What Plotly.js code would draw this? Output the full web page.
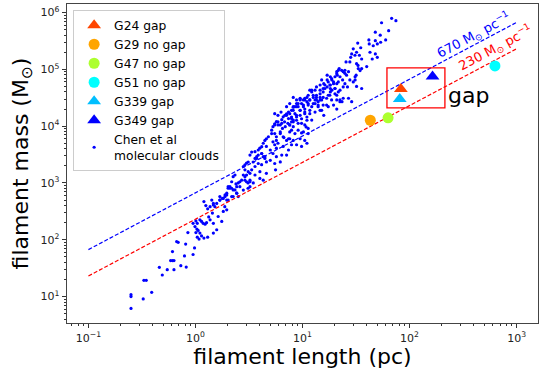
<!DOCTYPE html>
<html>
<head>
<meta charset="utf-8">
<script src="https://cdn.plot.ly/plotly-3.0.1.min.js"></script>
<style>
  html, body { margin: 0; padding: 0; background: #fff; }
  #chart { width: 546px; height: 369px; }
</style>
</head>
<body>
<div id="chart"></div>
<script>
// Chen et al. molecular clouds: filament length (pc) and mass (Msun)
const chenLength = [
  0.25,0.25,0.25,0.325,0.33,0.347,0.39,0.46,0.49,0.545,0.586,0.61,0.63,0.61,0.63,0.667,0.69,0.73,0.79,0.82,0.81,0.95,0.98,0.85,
  1.01,1.04,1.10,1.14,1.18,1.23,1.27,0.99,1.03,1.06,1.10,1.01,1.04,1.08,1.14,1.20,1.30,0.95,1.37,1.47,1.58,1.47,1.44,1.33,1.37,1.47,
  1.69,1.82,1.88,1.82,1.63,2.02,2.10,2.25,1.96,2.18,2.39,1.96,1.76,1.2,1.25,1.3,
  1.42,1.47,1.69,1.78,1.89,1.96,2.02,2.10,1.96,2.18,2.34,2.43,2.51,2.60,2.43,2.51,2.25,2.34,2.80,2.9,2.8,2.9,3.0,3.11,
  2.9,3.11,3.35,2.7,3.0,3.23,3.1,3.23,3.46,3.6,3.73,3.86,3.6,3.86,3.99,4.16,4.3,4.45,4.6,4.8,4.16,4.3,4.45,
  5.15,5.3,5.5,5.7,5.9,6.4,6.6,6.85,7.1,7.4,7.9,6.2,6.6,7.1,7.6,5.5,5.7,4.3,
  8.5,9.5,10.5,11,9.8,8.8,7.9,7.4,8.2,9.1,10.2,11.3,7.6,6.9,6.4,5.9,5.5,6.2,6.7,7.4,8.2,9.5,10.5,11.3,5.7,5.15,5.3,5.9,
  6.6,7.4,7.9,8.8,9.8,11,4.6,5.0,5.3,5.7,6.4,7.1,4.15,4.46,5.0,4.6,3.86,4.15,3.6,3.35,3.23,3.73,5.5,6.2,5.6,4.0,3.23,
  3.6,3.0,2.9,3.23,3.47,2.6,2.8,3.1,2.43,2.25,2.18,2.02,1.89,1.69,1.58,1.52,4.0,4.6,
  5.5,5.9,6.3,6.8,7.3,7.9,8.2,7.6,6.2,6.5,5.5,7.9,8.5,5.7,
  8.2,8.8,9.5,7.6,8.5,10.2,7.1,
  32.8,29.8,28.8,30.9,27.7,25.5,32,33.2,31,32,22,23.2,24,24.9,25.8,26.9,21.1,20.1,22.4,23.7,21.6,24.9,27.7,29.8,26.3,
  17,18.2,18.8,19.5,20.9,17.4,16.2,15.6,14.6,15.1,18.2,20.1,22.4,11.7,12.2,11.3,11,12.6,13.5,10.5,9.5,9.1,10.2,11.3,
  13.1,14.6,16.8,18.7,20.9,14,12.2,8.8,8.2,14.6,13.5,18.2,20.9,24,26.9,28.8,23.4,
  54.8,68,74.6,63.8,47.9,53.2,41.7,42,47.9,53.7,59.8,50,45.8,42.7,47.9,50,44.8,35,32,34,35.7,28.2,33,35.7,24.9,34.5,
  31.7,39.8,35.7,31,20.9,17,15.8,18.2,13.1,10.5,9.5,8.8,8.2,11.7,12.6,13.5,14.6,15.6,17.4,18.8,20.1,9.5,10.5,11.7,
  13.1,14,15.1,16.8,22.4,8.8,9.8,11,12.2,9.1,8.2,10.5,7.6,15.8,9.8,10.8,
  21.6,20.9,18.7,19.5,18,17,16.2,15.6,14.6,13.5,12.2,12.6,11.7,11,10.2,9.8,9.1,9.5,10.5,11.3,13.1,14,15.1,18,20.1,
  21.6,15.6,17.4,19.5,20.9,14.6,11.7,8.2,7.6,7.1,8.8,7.9,24,22.4
];
const chenMass = [
  6.2,10.8,10,9.1,19.3,19.3,11.9,32.7,24,29.8,43,43,43,62,29.8,93,90,35,52,33,84,55,72,134,
  215,195,224,210,195,188,200,171,154,146,131,134,111,103,117,107,111,195,224,195,150,131,295,252,383,437,
  500,535,383,316,257,861,807,753,616,1050,960,336,210,470,400,350,
  500,410,575,535,616,660,807,861,500,575,753,861,1000,1050,660,575,1290,1380,1380,1290,1950,2090,2240,2340,
  1700,1580,1700,1120,1050,1120,1000,861,2340,2700,2900,3100,3550,3800,4100,4350,5000,5600,6000,6500,3300,2900,2700,
  8500,9800,11000,12000,10500,13000,14600,15500,16500,17700,19000,7400,6500,5600,6000,4700,4100,1120,
  16600,15500,17700,12700,11200,12700,11900,13600,9800,8500,7900,9100,7900,9800,11200,11900,10500,7900,6300,6000,5600,6000,5600,7400,6500,7400,5300,5000,
  4400,3800,4700,4700,4400,5000,4400,3800,3300,2900,3100,3100,3300,2900,2500,2350,2200,2100,1950,3500,3100,2700,2200,2350,1700,1580,1480,
  1380,1380,1120,1050,1000,860,750,807,660,575,807,500,575,500,437,383,1200,1480,
  16600,15500,17700,11900,11200,14500,11900,10500,10500,9100,7400,8500,7400,5600,
  32000,29000,31000,25000,22000,22000,22000,
  290000,230000,187000,177000,135000,135000,126000,103000,74000,50000,103000,96000,91000,85000,79000,91000,79000,74000,74000,65000,60000,56000,65000,60000,49000,
  79000,74000,65000,56000,56000,60000,53000,46000,43000,65000,46000,46000,43000,43000,40000,35000,32000,35000,32000,29000,29000,25000,23500,25000,
  29000,29000,31000,29000,29000,23500,22000,22000,21500,53000,49000,40000,35000,49000,31000,27000,27000,
  660000,790000,720000,480000,450000,400000,330000,280000,320000,300000,330000,280000,260000,200000,187000,163000,152000,240000,200000,177000,152000,163000,117000,103000,96000,95000,
  79000,112000,46000,65000,91000,65000,56000,53000,43000,31000,30000,25000,22000,29000,25000,29000,32000,32000,35000,43000,46000,19000,16600,19000,
  17700,22000,19000,23500,27000,15500,13500,14500,12800,11200,12800,10500,10500,15500,7600,9700,
  96000,84000,69000,60000,53000,49000,46000,40000,37000,35000,43000,32000,29000,27000,29000,25000,22000,19000,20000,23500,25000,27000,29000,35000,37000,
  40000,23500,22000,23500,20000,19000,16600,19000,16600,15500,14500,13600,31000,29000
];

// Individual filaments
const filNames  = ["G24 gap", "G29 no gap", "G47 no gap", "G51 no gap", "G339 gap", "G349 gap"];
const filLength = [83, 43, 63, 628, 81, 164];
const filMass   = [45000, 12700, 14000, 115000, 30000, 75000];
const filSymbol = ["triangle-up", "circle", "circle", "circle", "triangle-up", "triangle-up"];
const filColor  = ["#ff4500", "#ffa500", "#adff2f", "#00ffff", "#00bfff", "#0000ff"];

// Constant line-mass references (Msun per pc) and the length span they cover
const lineMassHigh = 670;
const lineMassLow  = 230;
const refLength = [0.1, 1000];

// "gap" box corners (length, mass)
const gapBoxLength = [61.5, 214];
const gapBoxMass   = [21000, 106000];

const FONT = "DejaVu Sans, Liberation Sans, sans-serif";

const traces = [];

traces.push({
  x: chenLength, y: chenMass, type: "scatter", mode: "markers",
  name: "Chen et al<br>molecular clouds",
  marker: { color: "#0000ff", size: 3.2 },
  legendrank: 1000
});

traces.push({
  x: refLength, y: refLength.map(v => v * lineMassHigh), type: "scatter", mode: "lines",
  line: { color: "#0000ff", width: 1.2, dash: "4px,2px" }, showlegend: false, hoverinfo: "skip"
});
traces.push({
  x: refLength, y: refLength.map(v => v * lineMassLow), type: "scatter", mode: "lines",
  line: { color: "#ff0000", width: 1.2, dash: "4px,2px" }, showlegend: false, hoverinfo: "skip"
});

filNames.forEach((n, i) => {
  traces.push({
    x: [filLength[i]], y: [filMass[i]], type: "scatter", mode: "markers",
    name: n, legendrank: i + 1,
    marker: { symbol: filSymbol[i], color: filColor[i], size: filSymbol[i] === "circle" ? 11 : 12,
              line: { width: 0 } }
  });
});

// tick positions per decade
function decadeTicks(lo, hi) {
  const major = [], text = [], minor = [];
  for (let e = lo; e <= hi; e++) {
    major.push(Math.pow(10, e));
    text.push("10<sup>" + (e < 0 ? "\u2212" + (-e) : e) + "</sup>");
  }
  for (let e = lo - 1; e <= hi; e++) {
    for (let k = 2; k <= 9; k++) minor.push(k * Math.pow(10, e));
  }
  return { major, text, minor };
}
const xt = decadeTicks(-1, 3);
const yt = decadeTicks(1, 6);

const axisBase = {
  type: "log",
  showgrid: false, zeroline: false,
  showline: true, mirror: true, linecolor: "#444", linewidth: 1.3,
  ticks: "outside", ticklen: 4, tickwidth: 1, tickcolor: "#333",
  tickfont: { family: FONT, size: 11, color: "#222" },
  tickmode: "array"
};

const layout = {
  width: 546, height: 369,
  margin: { l: 67, r: 8, t: 4, b: 46 },
  paper_bgcolor: "#fff", plot_bgcolor: "#fff",
  font: { family: FONT, color: "#000" },
  xaxis: Object.assign({}, axisBase, {
    range: [-1.2, 3.2],
    tickvals: xt.major, ticktext: xt.text,
    minor: { tickmode: "array", tickvals: xt.minor, ticks: "outside", ticklen: 2, tickcolor: "#333", showgrid: false },
    title: { text: "filament length (pc)", font: { family: FONT, size: 22, color: "#000" }, standoff: 0 }
  }),
  yaxis: Object.assign({}, axisBase, {
    range: [0.535, 6.15],
    tickvals: yt.major, ticktext: yt.text,
    minor: { tickmode: "array", tickvals: yt.minor, ticks: "outside", ticklen: 2, tickcolor: "#333", showgrid: false },
    title: { text: "filament mass (M<sub>\u2299</sub>)", font: { family: FONT, size: 22, color: "#000" }, standoff: 6 }
  }),
  legend: {
    x: 0.013, y: 0.982, xanchor: "left", yanchor: "top",
    bgcolor: "rgba(255,255,255,0.9)", bordercolor: "#cccccc", borderwidth: 1,
    font: { family: FONT, size: 12.3, color: "#000" },
    tracegroupgap: 0
  },
  shapes: [{
    type: "rect", xref: "x", yref: "y",
    x0: gapBoxLength[0], x1: gapBoxLength[1], y0: gapBoxMass[0], y1: gapBoxMass[1],
    line: { color: "#ff0000", width: 1.3 }, fillcolor: "rgba(0,0,0,0)"
  }],
  annotations: [
    { x: Math.log10(400), y: Math.log10(410000), xref: "x", yref: "y", showarrow: false,
      text: lineMassHigh + " M<sub>\u2299</sub> pc<sup>\u22121</sup>", textangle: -28,
      font: { family: FONT, size: 13, color: "#0000ff" } },
    { x: Math.log10(630), y: Math.log10(238000), xref: "x", yref: "y", showarrow: false,
      text: lineMassLow + " M<sub>\u2299</sub> pc<sup>\u22121</sup>", textangle: -28,
      font: { family: FONT, size: 13, color: "#ff0000" } },
    { x: Math.log10(359), y: Math.log10(35000), xref: "x", yref: "y", showarrow: false,
      text: "gap", font: { family: FONT, size: 22, color: "#000" } }
  ],
  showlegend: true
};

Plotly.newPlot("chart", traces, layout, { staticPlot: true, displayModeBar: false });
</script>
</body>
</html>
